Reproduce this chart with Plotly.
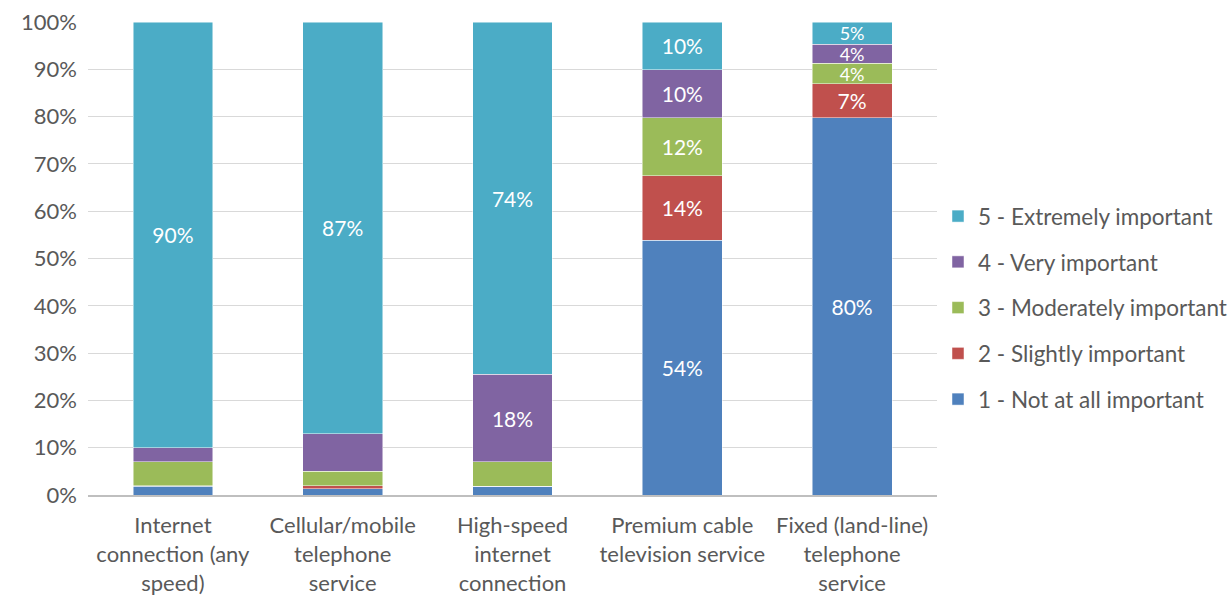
import plotly.graph_objects as go

categories = [
    "Internet<br>connection (any<br>speed)",
    "Cellular/mobile<br>telephone<br>service",
    "High-speed<br>internet<br>connection",
    "Premium cable<br>television service",
    "Fixed (land-line)<br>telephone<br>service",
]
series_names = [
    "1 - Not at all important",
    "2 - Slightly important",
    "3 - Moderately important",
    "4 - Very important",
    "5 - Extremely important",
]
not_at_all = [1.8, 1.3, 1.8, 53.9, 79.8]
slightly = [0.2, 0.7, 0.0, 13.6, 7.1]
moderately = [5.0, 3.0, 5.2, 12.3, 4.4]
very = [3.0, 8.0, 18.5, 10.1, 4.0]
extremely = [90.0, 87.0, 74.5, 10.1, 4.7]
show_label = [
    [False, False, False, True, True],
    [False, False, False, True, True],
    [False, False, False, True, True],
    [False, False, True, True, True],
    [True, True, True, True, True],
]
colors = ["#4F81BD", "#C0504D", "#9BBB59", "#8064A2", "#4BACC6"]
values = [not_at_all, slightly, moderately, very, extremely]

FONT = "Lato, Open Sans, sans-serif"

fig = go.Figure()
for i, (name, vals, col, mask) in enumerate(zip(series_names, values, colors, show_label)):
    txt = [f"{round(v):d}%" if m else "" for v, m in zip(vals, mask)]
    sizes = [21 if v >= 6 else 18 for v in vals]
    fig.add_trace(go.Bar(
        x=categories, y=vals, name=name, legendgroup=f"g{i}",
        legendrank=100 - 10 * i,
        marker=dict(color=col, line=dict(color="rgba(255,255,255,0.6)", width=0.8)),
        text=txt, textposition="inside", insidetextanchor="middle",
        textfont=dict(color="white", size=sizes, family=FONT),
        textangle=0, constraintext="none", hoverinfo="y+name",
    ))

fig.update_layout(
    barmode="stack",
    bargap=0.53,
    width=1230, height=595,
    margin=dict(l=88, r=293, t=22, b=100),
    plot_bgcolor="white", paper_bgcolor="white",
    font=dict(family=FONT, size=22, color="#595959"),
    uniformtext=dict(mode=False),
    legend=dict(
        traceorder="grouped",
        xref="container", yref="container",
        x=0.7626, xanchor="left", y=0.4824, yanchor="middle",
        font=dict(size=22.5, color="#595959"),
        tracegroupgap=13.5, itemwidth=30,
        bgcolor="rgba(0,0,0,0)",
    ),
    xaxis=dict(
        showline=True, linecolor="#BFBFBF", linewidth=2,
        tickfont=dict(size=22, color="#595959"),
        ticks="", automargin=False, ticklabelstandoff=10,
    ),
    yaxis=dict(
        range=[0, 100], dtick=10, ticksuffix="%",
        showgrid=True, gridcolor="#D9D9D9", gridwidth=1,
        zeroline=False, showline=False,
        tickfont=dict(size=22, color="#595959"),
        automargin=False, ticklabelstandoff=10,
    ),
)

fig.write_html(
    "out.html",
    config={"displayModeBar": False},
    post_script="document.body.style.margin='0';document.body.style.padding='0';",
)
